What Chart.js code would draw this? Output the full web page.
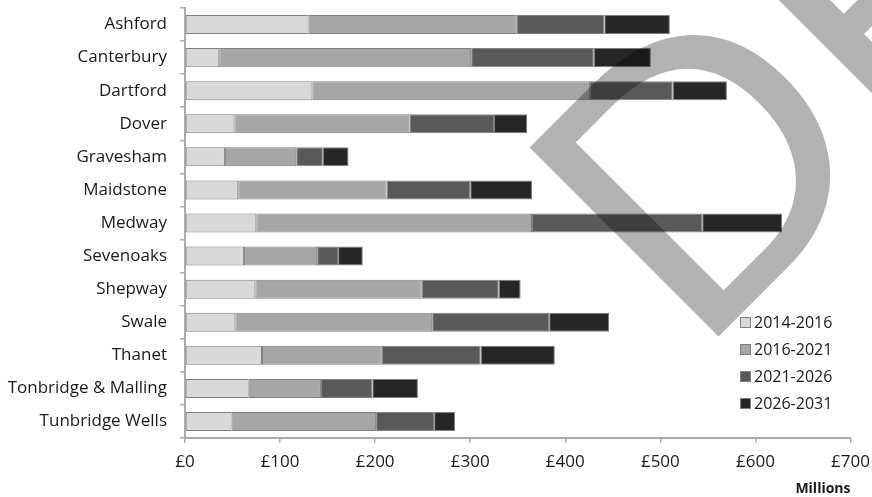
<!DOCTYPE html>
<html>
<head>
<meta charset="utf-8">
<script src="https://cdn.jsdelivr.net/npm/chart.js@4.4.0/dist/chart.umd.min.js"></script>
<style>
  html, body { margin: 0; padding: 0; background: #fff; }
</style>
</head>
<body>
<canvas id="chart" width="872" height="497"></canvas>
<script>
// Kent districts, infrastructure funding gap by period (GBP millions)
const districts = ['Ashford', 'Canterbury', 'Dartford', 'Dover', 'Gravesham', 'Maidstone', 'Medway',
  'Sevenoaks', 'Shepway', 'Swale', 'Thanet', 'Tonbridge & Malling', 'Tunbridge Wells'];
const periods = ['2014-2016', '2016-2021', '2021-2026', '2026-2031'];
const p2014 = [130, 36, 134, 52, 42, 56, 75, 62, 74, 53, 81, 67, 49];
const p2016 = [219, 265, 292, 184, 75, 156, 290, 77, 175, 207, 126, 76, 152];
const p2021 = [92, 129, 87, 89, 28, 88, 179, 22, 81, 123, 104, 54, 61];
const p2026 = [69, 60, 57, 35, 27, 65, 84, 26, 23, 63, 78, 48, 22];
const xTicks = [0, 100, 200, 300, 400, 500, 600, 700];
const xTickLabels = ['£0', '£100', '£200', '£300', '£400', '£500', '£600', '£700'];

const colors = ['#d9d9d9', '#a6a6a6', '#595959', '#262626'];
const series = [p2014, p2016, p2021, p2026];
const textColor = '#1a1a1a';
const axisColor = '#ababab';
const font = '"Open Sans", "DejaVu Sans", sans-serif';

// big "DRAFT" stamp across the chart
const draftMark = {
  id: 'draftMark',
  afterDraw(chart) {
    const ctx = chart.ctx;
    ctx.save();
    const base = 100;
    const face = '"Liberation Sans"';
    ctx.font = base + 'px ' + face;
    const m = ctx.measureText('D');
    const k = 268 / m.actualBoundingBoxAscent;
    ctx.font = (base * k) + 'px ' + face;
    const left = -m.actualBoundingBoxLeft * k;
    const c = Math.SQRT1_2;
    ctx.translate(718 - left * c, 337 + left * c);
    ctx.rotate(-Math.PI / 4);
    ctx.fillStyle = 'rgba(0,0,0,0.3)';
    ctx.textBaseline = 'alphabetic';
    ctx.fillText('DRAFT', 0, 0);
    ctx.restore();
  }
};

// legend sitting inside the plot, bottom right
const boxLegend = {
  id: 'boxLegend',
  afterDraw(chart) {
    const ctx = chart.ctx;
    ctx.save();
    ctx.font = '16px ' + font;
    ctx.textBaseline = 'middle';
    ctx.textAlign = 'left';
    chart.data.datasets.forEach((ds, i) => {
      const y = 323 + i * 27;
      ctx.fillStyle = ds.backgroundColor;
      ctx.fillRect(740.5, y - 5.5, 10, 10);
      ctx.strokeStyle = '#808080';
      ctx.lineWidth = 1;
      ctx.strokeRect(740.5, y - 5.5, 10, 10);
      ctx.fillStyle = textColor;
      ctx.fillText(ds.label, 754, y);
    });
    ctx.restore();
  }
};

new Chart(document.getElementById('chart'), {
  type: 'bar',
  data: {
    labels: districts,
    datasets: periods.map((p, i) => ({
      label: p,
      data: series[i],
      backgroundColor: colors[i],
      borderColor: '#808080',
      borderWidth: 1,
      borderSkipped: false,
      barPercentage: 0.575,
      categoryPercentage: 1
    }))
  },
  options: {
    indexAxis: 'y',
    responsive: false,
    animation: false,
    devicePixelRatio: 1,
    layout: { padding: { top: 8, right: 21.5, bottom: 0, left: 0 } },
    plugins: {
      legend: { display: false },
      tooltip: { enabled: false }
    },
    scales: {
      x: {
        stacked: true,
        min: xTicks[0],
        max: xTicks[xTicks.length - 1],
        afterBuildTicks: (s) => { s.ticks = xTicks.map(v => ({ value: v })); },
        afterFit: (s) => { s.height = 59; s.paddingLeft = 0; s.paddingRight = 0; },
        ticks: {
          color: textColor,
          font: { family: font, size: 17 },
          padding: 9,
          maxRotation: 0,
          callback: (v) => xTickLabels[xTicks.indexOf(v)]
        },
        grid: { drawOnChartArea: false, tickLength: 5, color: axisColor, lineWidth: 1.5 },
        border: { color: axisColor, width: 2 },
        title: {
          display: true,
          text: 'Millions',
          align: 'end',
          color: textColor,
          font: { family: font, size: 14, weight: 'bold' },
          padding: { top: 0, bottom: 0 }
        }
      },
      y: {
        stacked: true,
        afterFit: (s) => { s.width = 185; s.paddingTop = 0; s.paddingBottom = 0; },
        ticks: {
          color: textColor,
          font: { family: font, size: 17 },
          padding: 13
        },
        grid: { drawOnChartArea: false, tickLength: 5, color: axisColor, lineWidth: 1.5, offset: true },
        border: { color: axisColor, width: 2 }
      }
    }
  },
  plugins: [draftMark, boxLegend]
});
</script>
</body>
</html>
